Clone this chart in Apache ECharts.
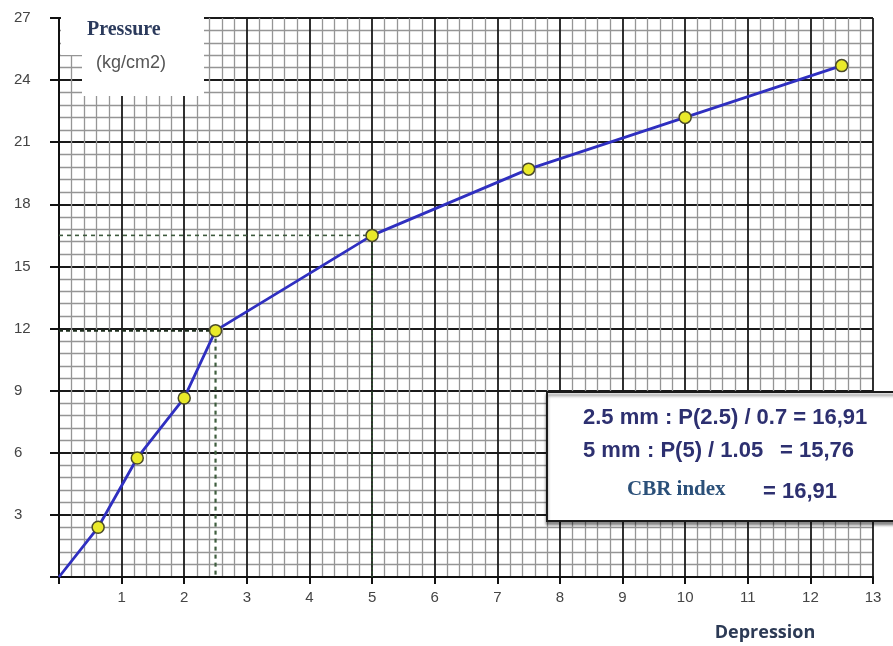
<!DOCTYPE html>
<html>
<head>
<meta charset="utf-8">
<script src="https://cdn.jsdelivr.net/npm/echarts@6/dist/echarts.min.js"></script>
<style>html,body{margin:0;padding:0;background:#fff;}#c{width:893px;height:646px;}</style>
</head>
<body>
<div id="c"></div>
<script>
// Data
const depression = [0, 0.625, 1.25, 2.0, 2.5, 5.0, 7.5, 10.0, 12.5];
const pressure = [0, 2.4, 5.75, 8.65, 11.9, 16.5, 19.7, 22.2, 24.7];
const xTicks = [0, 13, 1];   // min, max, interval
const yTicks = [0, 27, 3];
const refX25 = 2.5, refP25 = 11.9;
const refX5 = 5.0, refP5 = 16.5;
const boxLines = {
  l1: '2.5 mm : P(2.5) / 0.7 = 16,91',
  l2a: '5 mm', l2b: ': P(5) / 1.05', l2c: '= 15,76',
  cbr: 'CBR index', cbrv: '= 16,91'
};

const mainData = depression.map((d, i) => [d, pressure[i]]);

const chart = echarts.init(document.getElementById('c'), null, {renderer: 'canvas'});
const navy = '#2d3070';
const boxFont = 'bold 22px "Liberation Sans", Arial, sans-serif';
chart.setOption({
  animation: false,
  backgroundColor: '#ffffff',
  grid: {left: 59, right: 20, top: 18, bottom: 69, containLabel: false},
  xAxis: {
    type: 'value', min: xTicks[0], max: xTicks[1], interval: xTicks[2],
    axisLine: {show: true, onZero: false, lineStyle: {color: '#111', width: 2}},
    axisTick: {show: true, length: 7, lineStyle: {color: '#111', width: 2}},
    axisLabel: {show: true, margin: 13, color: '#444', fontSize: 15, fontFamily: 'Liberation Sans, Arial',
      formatter: v => v === 0 ? '' : String(v)},
    splitLine: {show: true, lineStyle: {color: '#1a1a1a', width: 1.8}},
    minorTick: {show: false, splitNumber: 5},
    minorSplitLine: {show: true, lineStyle: {color: '#959595', width: 1.3}}
  },
  yAxis: {
    type: 'value', min: yTicks[0], max: yTicks[1], interval: yTicks[2],
    axisLine: {show: true, onZero: false, lineStyle: {color: '#111', width: 2}},
    axisTick: {show: true, length: 9, lineStyle: {color: '#111', width: 2}},
    axisLabel: {show: true, margin: 45, align: 'left', color: '#444', fontSize: 15, fontFamily: 'Liberation Sans, Arial',
      formatter: v => v === 0 ? '' : String(v)},
    splitLine: {show: true, lineStyle: {color: '#1a1a1a', width: 1.8}},
    minorTick: {show: false, splitNumber: 5},
    minorSplitLine: {show: true, lineStyle: {color: '#959595', width: 1.3}}
  },
  series: [
    {type: 'line', data: [[0, refP25], [refX25, refP25]], symbol: 'none', z: 3,
      lineStyle: {color: '#1e2e1e', width: 2.2, type: [4, 3]}},
    {type: 'line', data: [[refX25, refP25], [refX25, 0]], symbol: 'none', z: 3,
      lineStyle: {color: '#3f5e3f', width: 2.2, type: [4, 4]}},
    {type: 'line', data: [[0, refP5], [refX5, refP5]], symbol: 'none', z: 3,
      lineStyle: {color: '#3d5a3d', width: 1.6, type: [4, 4]}},
    {type: 'line', data: [[refX5, refP5], [refX5, 0]], symbol: 'none', z: 3,
      lineStyle: {color: '#2f5e2f', width: 1.2, type: [2, 2]}},
    {type: 'line', data: mainData, z: 5,
      symbol: 'circle', symbolSize: (v, p) => p.dataIndex === 0 ? 0 : 12,
      lineStyle: {color: '#2f2fc0', width: 2.8},
      itemStyle: {color: '#eaea2a', borderColor: '#4a4a2a', borderWidth: 1.5}}
  ],
  graphic: [
    {type: 'rect', z: 100, shape: {x: 61, y: 0, width: 143, height: 55}, style: {fill: '#fff'}},
    {type: 'rect', z: 100, shape: {x: 82, y: 0, width: 122, height: 96}, style: {fill: '#fff'}},
    {type: 'text', z: 101, style: {text: 'Pressure', x: 87, y: 30, font: 'bold 20px "Liberation Serif", "Times New Roman", serif', fill: '#2b3a5c', textVerticalAlign: 'middle', verticalAlign: 'middle'}},
    {type: 'text', z: 101, style: {text: '(kg/cm2)', x: 96, y: 63, font: '18px "Liberation Sans", Arial, sans-serif', fill: '#555', textVerticalAlign: 'middle', verticalAlign: 'middle'}},
    {type: 'rect', z: 100, shape: {x: 547, y: 392, width: 360, height: 129},
      style: {fill: '#fff', stroke: '#1a1a1a', lineWidth: 2, shadowColor: 'rgba(0,0,0,0.45)', shadowBlur: 3, shadowOffsetY: 3}},
    {type: 'text', z: 101, style: {text: boxLines.l1, x: 583, y: 418, font: boxFont, fill: navy, textVerticalAlign: 'middle', verticalAlign: 'middle'}},
    {type: 'text', z: 101, style: {text: boxLines.l2a, x: 583, y: 451, font: boxFont, fill: navy, textVerticalAlign: 'middle', verticalAlign: 'middle'}},
    {type: 'text', z: 101, style: {text: boxLines.l2b, x: 647, y: 451, font: boxFont, fill: navy, textVerticalAlign: 'middle', verticalAlign: 'middle'}},
    {type: 'text', z: 101, style: {text: boxLines.l2c, x: 780, y: 451, font: boxFont, fill: navy, textVerticalAlign: 'middle', verticalAlign: 'middle'}},
    {type: 'text', z: 101, style: {text: boxLines.cbr, x: 627, y: 490, font: 'bold 21px "Liberation Serif", "Times New Roman", serif', fill: '#2b5079', textVerticalAlign: 'middle', verticalAlign: 'middle'}},
    {type: 'text', z: 101, style: {text: boxLines.cbrv, x: 763, y: 492, font: boxFont, fill: navy, textVerticalAlign: 'middle', verticalAlign: 'middle'}},
    {type: 'text', z: 101, style: {text: 'Depression', x: 765, y: 633, font: 'bold 18px "Open Sans", "Noto Sans", sans-serif', fill: '#2c3a55', textAlign: 'center', align: 'center', textVerticalAlign: 'middle', verticalAlign: 'middle'}}
  ]
});
</script>
</body>
</html>
